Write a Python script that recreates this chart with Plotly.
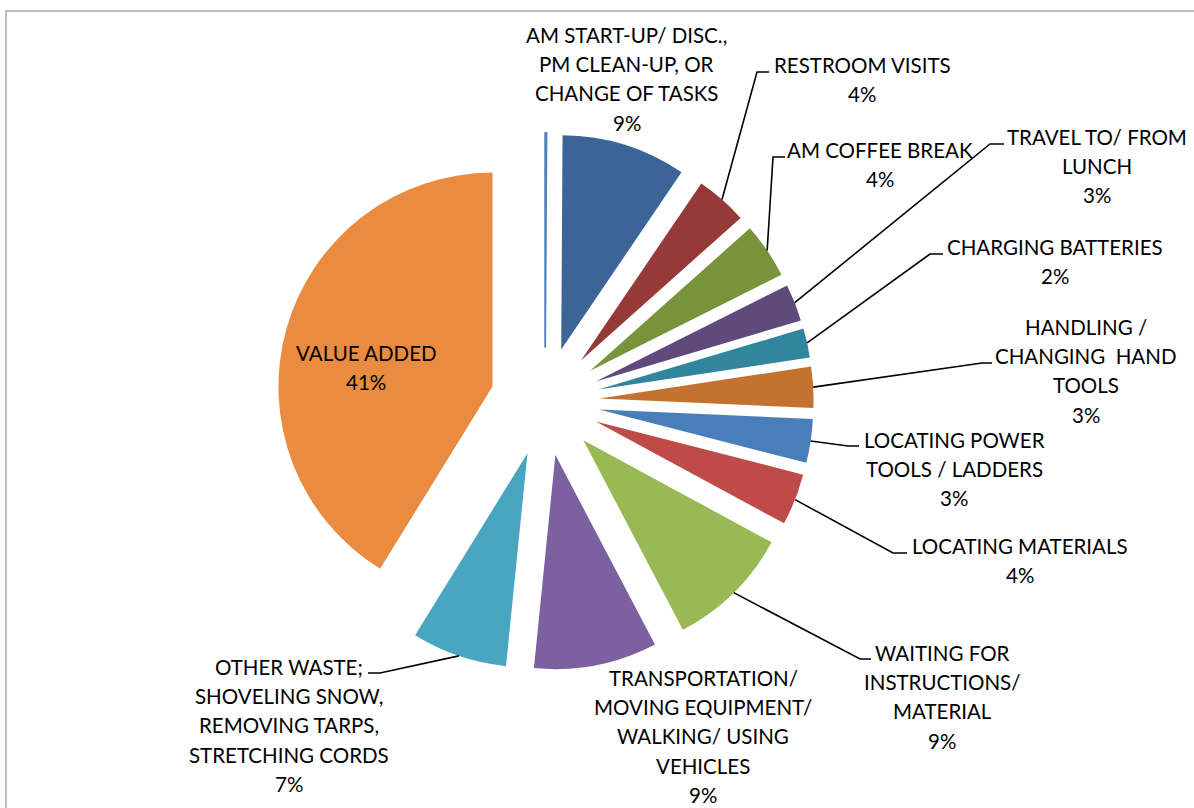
import math
import plotly.graph_objects as go

# ---- data -------------------------------------------------------------
categories = [
    "",
    "AM START-UP/ DISC.,\nPM CLEAN-UP, OR\nCHANGE OF TASKS",
    "RESTROOM VISITS",
    "AM COFFEE BREAK",
    "TRAVEL TO/ FROM\nLUNCH",
    "CHARGING BATTERIES",
    "HANDLING /\nCHANGING \u00a0HAND\nTOOLS",
    "LOCATING POWER\nTOOLS / LADDERS",
    "LOCATING MATERIALS",
    "WAITING FOR\nINSTRUCTIONS/\nMATERIAL",
    "TRANSPORTATION/\nMOVING EQUIPMENT/\nWALKING/ USING\nVEHICLES",
    "OTHER WASTE;\nSHOVELING SNOW,\nREMOVING TARPS,\nSTRETCHING CORDS",
    "VALUE ADDED",
]
shares = [0.1, 9.4, 3.9, 4.2, 2.8, 2.2, 3.1, 3.3, 3.9, 9.4, 9.3, 7.2, 41.2]

# ---- styling ----------------------------------------------------------
colors = [
    "#4F81BD", "#3B6596", "#953A37", "#77933C", "#604A7B", "#31859C",
    "#C4722F", "#4A7EBB", "#BE4B48", "#98B954", "#7D60A0", "#4AA6C0",
    "#E98B41",
]
FIG_W, FIG_H = 1194, 808
PULL = 0.255
DOM_X = [0.23149, 0.68141]
DOM_Y = [0.17066, 0.83552]
FONT = "Lato"
FONT_SIZE = 20.5
LINE_PITCH = 29.2

# label block centres (px, first line) and leader elbows (px)
label_pos = [None, (626.5, 35), (862, 65), (879.5, 150), (1097, 137),
             (1054.5, 247), (1086, 327), (954, 440), (1020, 546),
             (942, 653), (703, 678), (289, 667), (366, 353)]
leader_bends = [None, None, ((757, 72), (769, 72)), ((773, 157), (785, 157)),
                ((990, 144), (1004, 144)), ((930, 254), (943, 254)),
                ((982, 363), (992, 363)), ((848, 446), (859, 446)),
                ((893, 553), (907, 553)), ((860, 659), (871, 659)), None,
                ((380, 673), (368, 673)), None]


def px(x):
    return x / FIG_W


def py(y):
    return 1 - y / FIG_H


fig = go.Figure(go.Pie(
    labels=[c if c else " " for c in categories],
    values=shares,
    sort=False,
    direction="clockwise",
    rotation=0,
    pull=PULL,
    textinfo="none",
    hoverinfo="label+percent",
    domain=dict(x=DOM_X, y=DOM_Y),
    marker=dict(
        colors=colors,
        line=dict(color=["#4F81BD"] + ["#FFFFFF"] * (len(shares) - 1),
                  width=[1.8] + [0] * (len(shares) - 1)),
    ),
))

# pie geometry in pixels (same rule plotly uses for pulled pies)
cx = FIG_W * (DOM_X[0] + DOM_X[1]) / 2
cy = FIG_H * (1 - (DOM_Y[0] + DOM_Y[1]) / 2)
r = min(FIG_W * (DOM_X[1] - DOM_X[0]), FIG_H * (DOM_Y[1] - DOM_Y[0])) / 2 / (1 + PULL)

total = sum(shares)
annotations = []
shapes = []
cum = 0.0
for i, (name, v) in enumerate(zip(categories, shares)):
    mid = math.radians(360 * (cum + v / 2) / total)
    cum += v
    if not name:
        continue
    pct = round(v / total * 100)
    lines = name.split("\n") + [f"{pct}%"]
    lx, ly = label_pos[i]
    for k, t in enumerate(lines):
        annotations.append(dict(
            x=px(lx), y=py(ly + k * LINE_PITCH), xref="paper", yref="paper",
            text=t, showarrow=False, xanchor="center", yanchor="middle",
            font=dict(family=FONT, size=FONT_SIZE, color="#000000"),
        ))
    bend = leader_bends[i]
    if bend:
        sx = cx + r * (1 + PULL) * math.sin(mid)
        sy = cy - r * (1 + PULL) * math.cos(mid)
        (bx, by), (ex, ey) = bend
        path = (f"M {px(sx)} {py(sy)} L {px(bx)} {py(by)} "
                f"L {px(ex)} {py(ey)}")
        shapes.append(dict(type="path", path=path, xref="paper", yref="paper",
                           line=dict(color="#000000", width=1.6)))

# chart area border
shapes.append(dict(type="rect", xref="paper", yref="paper",
                   x0=px(6), x1=1.05, y0=-0.05, y1=py(11),
                   line=dict(color="#A9A9A9", width=1.5)))

fig.update_layout(
    width=FIG_W, height=FIG_H,
    margin=dict(l=0, r=0, t=0, b=0),
    paper_bgcolor="#FFFFFF", plot_bgcolor="#FFFFFF",
    showlegend=False,
    annotations=annotations,
    shapes=shapes,
)

fig.write_html("out.html")
